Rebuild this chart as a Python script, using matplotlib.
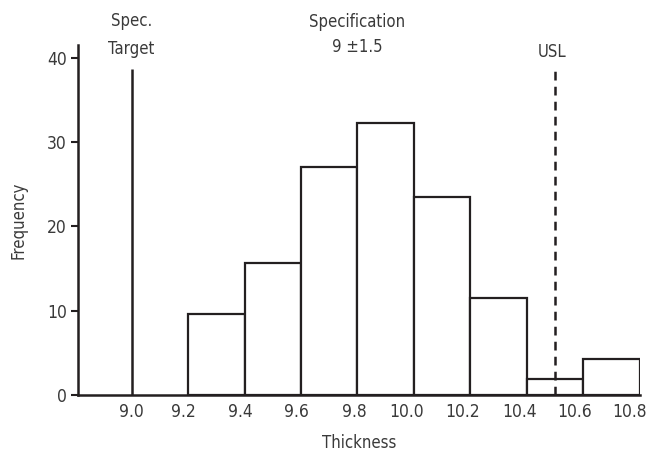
import numpy as np
import matplotlib.pyplot as plt
from matplotlib import transforms

# Datos
bin_edges = [9.2, 9.4, 9.6, 9.8, 10.0, 10.2, 10.4, 10.6, 10.8]
frequency = [9.6, 15.7, 27.0, 32.2, 23.5, 11.5, 1.9, 4.3]
x_ticks = [9.0, 9.2, 9.4, 9.6, 9.8, 10.0, 10.2, 10.4, 10.6, 10.8]
y_ticks = [0, 10, 20, 30, 40]
spec_target = 9.0
usl = 10.5
marker_height = 38.7

plt.rcParams['font.family'] = ['DejaVu Sans']
plt.rcParams['font.stretch'] = 'condensed'
plt.rcParams['font.size'] = 12
col = '#231f20'
txt = '#3a3a3a'

fig = plt.figure(figsize=(6.49, 4.55), dpi=100)
ax = fig.add_axes([0.120, 0.132, 0.866, 0.769])

lefts = np.array(bin_edges[:-1])
widths = np.diff(bin_edges)
ax.bar(lefts, frequency, width=widths, align='edge', facecolor='white',
       edgecolor=col, linewidth=1.6)

ax.vlines(spec_target, 0, marker_height, color=col, linewidth=1.8)
ax.vlines(usl, 0, marker_height, color=col, linewidth=1.8, linestyles=(0, (3.5, 2.5)))

# Anotaciones
ax.text(spec_target, 42.7, 'Spec.\nTarget', ha='center', va='center',
        linespacing=1.75, color=txt, clip_on=False)
ax.text(9.80, 42.7, 'Specification\n9 \u00b11.5', ha='center', va='center',
        linespacing=1.5, color=txt, clip_on=False)
ax.text(usl - 0.01, 40.7, 'USL', ha='center', va='center', color=txt)

ax.set_xlim(8.81, 10.80)
ax.set_ylim(0, 41.5)
ax.set_xticks(x_ticks)
ax.set_xticklabels([f'{v:.1f}' for v in x_ticks])
ax.set_yticks(y_ticks)
ax.tick_params(axis='x', length=0, pad=6, colors=txt, labelsize=12.5)
ax.tick_params(axis='y', length=5, width=1.5, color=col, colors=txt, pad=3, labelsize=12.5)
# etiquetas x algo desplazadas a la izquierda como en el original (en píxeles)
shift_px = [0, -5, -4, -5, -3, -7, -8, -7, -9, -10]
for t, dx in zip(ax.get_xticklabels(), shift_px):
    t.set_transform(t.get_transform() + transforms.ScaledTranslation(dx / 100, 0, fig.dpi_scale_trans))
for s in ['top', 'right']:
    ax.spines[s].set_visible(False)
for s in ['left', 'bottom']:
    ax.spines[s].set_linewidth(1.8)
    ax.spines[s].set_color(col)
ax.set_xlabel('Thickness', color=txt, labelpad=9, fontsize=12)
ax.set_ylabel('Frequency', color=txt, labelpad=14, fontsize=12)

fig.savefig('out.png', dpi=100)
